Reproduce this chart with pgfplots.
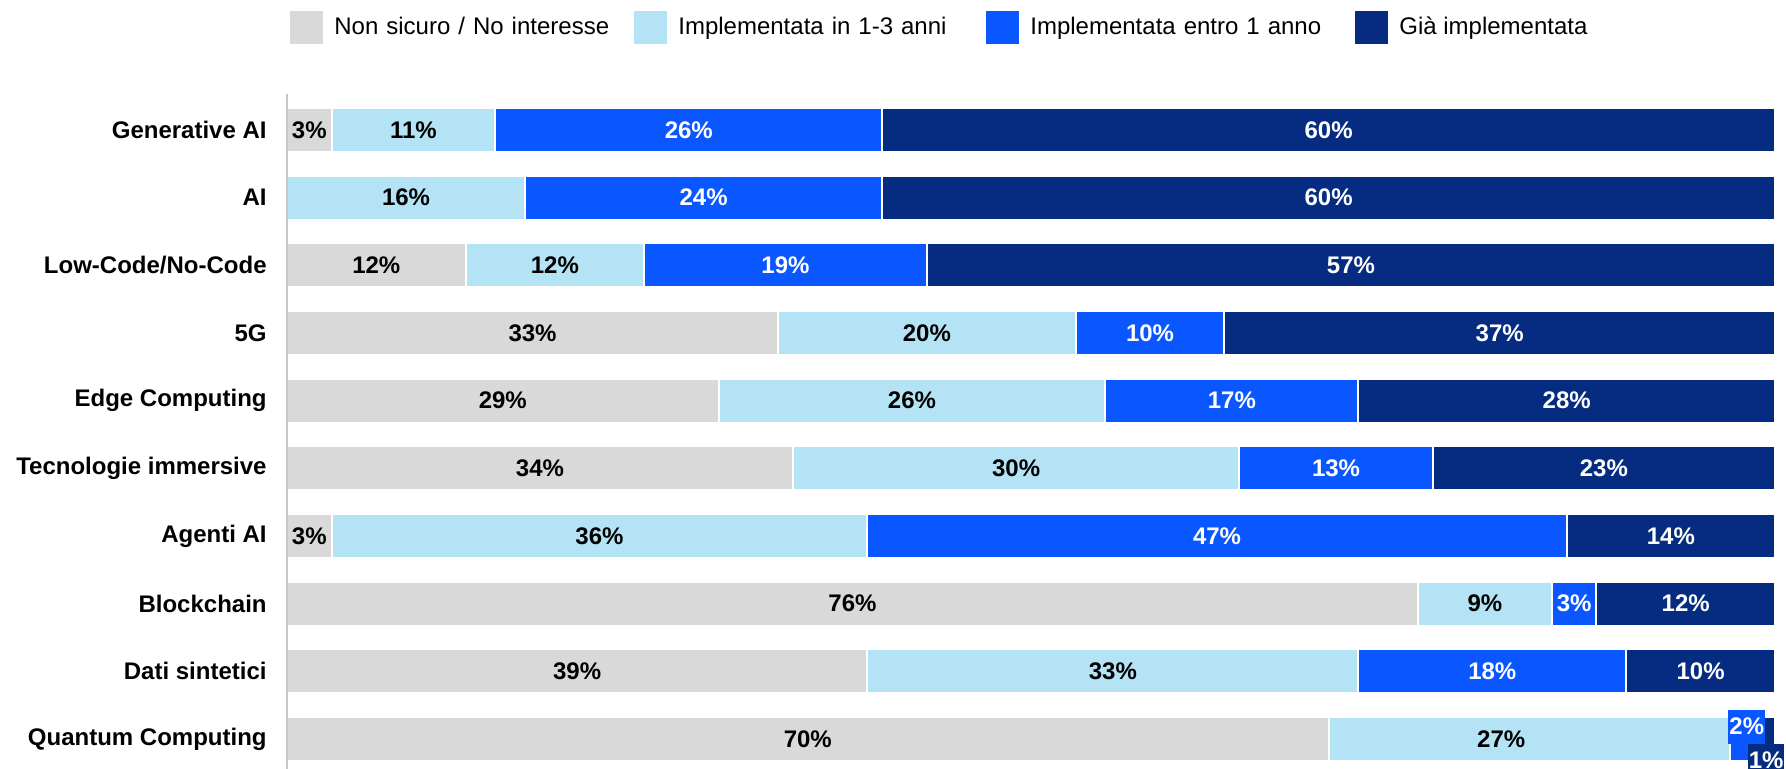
\documentclass[border=0pt]{standalone}
\usepackage{pgfplots}
\pgfplotsset{compat=1.18}
\usepackage{fontspec}
\setmainfont{Liberation Sans}
\definecolor{cgrey}{HTML}{D9D9D9}
\definecolor{clight}{HTML}{B4E3F5}
\definecolor{cblue}{HTML}{0A56FF}
\definecolor{cnavy}{HTML}{052C80}
\pgfplotsset{
  base/.style={
    at={(143.5pt,337.5pt)}, anchor=north west,
    scale only axis, width=744pt, height=342.75pt,
    xmin=0, xmax=100, ymin=-0.53, ymax=9.6,
    y dir=reverse, clip=false,
  }
}
\begin{document}
\begin{tikzpicture}
\begin{axis}[base,
  xbar stacked, bar width=22pt, axis on top,
  axis x line=none, axis y line*=left,
  y axis line style={-, draw=cgrey!92!black, line width=1pt},
  xtick=\empty,
  ytick={0,...,9}, ytick style={draw=none},
  yticklabels={Generative AI, AI, Low-Code/No-Code, 5G, Edge Computing, Tecnologie immersive, Agenti AI, Blockchain, Dati sintetici, Quantum Computing},
  yticklabel style={font=\bfseries\fontsize{12}{14}\selectfont, anchor=east, inner sep=0pt, xshift=-10pt},
  legend columns=4,
  legend style={at={(0.002,1.0977)}, anchor=west, draw=none, fill=none, inner sep=0pt,
    column sep=0pt, row sep=0pt, nodes={inner sep=0pt}, font=\fontsize{12}{14}\selectfont},
  legend image code/.code={\fill[#1,draw=none] (0pt,-8.25pt) rectangle (16.5pt,8.25pt); \path (21.5pt,0pt);},
]
\addplot[fill=cgrey, draw=white, line width=1pt] coordinates {(3,0) (0,1) (12,2) (33,3) (29,4) (34,5) (3,6) (76,7) (39,8) (70,9)};
\addlegendentry[text width=150pt]{Non sicuro / No interesse}
\addplot[fill=clight, draw=white, line width=1pt] coordinates {(11,0) (16,1) (12,2) (20,3) (26,4) (30,5) (36,6) (9,7) (33,8) (27,9)};
\addlegendentry[text width=154pt]{Implementata in 1-3 anni}
\addplot[fill=cblue, draw=white, line width=1pt] coordinates {(26,0) (24,1) (19,2) (10,3) (17,4) (13,5) (47,6) (3,7) (18,8) (2,9)};
\addlegendentry[text width=162.5pt]{Implementata entro 1 anno}
\addplot[fill=cnavy, draw=white, line width=1pt] coordinates {(60,0) (60,1) (57,2) (37,3) (28,4) (23,5) (14,6) (12,7) (10,8) (1,9)};
\addlegendentry{Già implementata}
\end{axis}
\begin{axis}[base, axis lines=none, xtick=\empty, ytick=\empty,
  /pgf/number format/assume math mode=true,
  point meta=explicit,
  nodes near coords={\pgfmathprintnumber{\pgfplotspointmeta}\%},
  nodes near coords style={anchor=center, font=\bfseries\fontsize{12}{14}\selectfont},
]
\addplot[draw=none, mark=none, nodes near coords style={text=black}] coordinates {
 (1.5,0) [3] (6,2) [12] (16.5,3) [33] (14.5,4) [29] (17,5) [34] (1.5,6) [3] (38,7) [76] (19.5,8) [39] (35,9) [70]};
\addplot[draw=none, mark=none, nodes near coords style={text=black}] coordinates {
 (8.5,0) [11] (8,1) [16] (18,2) [12] (43,3) [20] (42,4) [26] (49,5) [30] (21,6) [36] (80.5,7) [9] (55.5,8) [33] (81.6,9) [27]};
\addplot[draw=none, mark=none, nodes near coords style={text=white}] coordinates {
 (27,0) [26] (28,1) [24] (33.5,2) [19] (58,3) [10] (63.5,4) [17] (70.5,5) [13] (62.5,6) [47] (86.5,7) [3] (81,8) [18]};
\addplot[draw=none, mark=none, nodes near coords style={text=white}] coordinates {
 (70,0) [60] (70,1) [60] (71.5,2) [57] (81.5,3) [37] (86,4) [28] (88.5,5) [23] (93,6) [14] (94,7) [12] (95,8) [10]};
\addplot[draw=none, mark=none, nodes near coords style={text=white, fill=cblue, inner xsep=0.5pt, inner ysep=0pt, minimum height=17pt}] coordinates {(98.1,8.82) [2]};
\addplot[draw=none, mark=none, nodes near coords style={text=white, fill=cnavy, inner xsep=0.5pt, inner ysep=0pt, minimum height=17pt}] coordinates {(99.4,9.32) [1]};
\end{axis}
\pgfresetboundingbox
\useasboundingbox (0,0) rectangle (893pt,384.5pt);
\end{tikzpicture}
\end{document}
